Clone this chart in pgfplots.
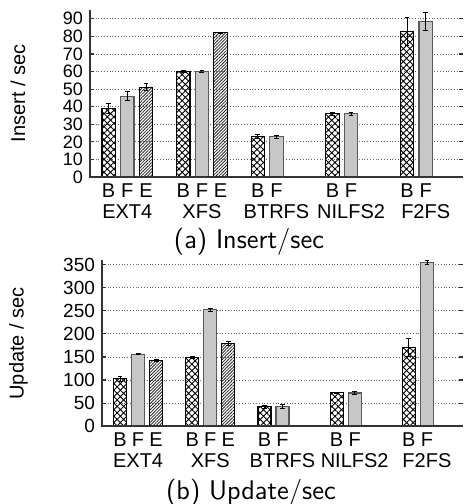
\documentclass[border=0pt]{standalone}
\usepackage{fontspec}
\setmainfont{Liberation Sans}
\usepackage{pgfplots}
\pgfplotsset{compat=1.18}
\usetikzlibrary{patterns.meta}

\pgfplotsset{
  fsbars/.style={
    scale only axis,
    xmin=-1, xmax=19,
    ymin=0,
    ybar, bar shift=0pt, bar width=0.72,
    axis line style={draw=none},
    extra description/.code={
      \draw[line width=0.9pt, black!80] (rel axis cs:0,1) -- (rel axis cs:0,0) -- (rel axis cs:1,0);
    },
    xtick={0,1,2,4,5,6,8,9,12,13,16,17},
    xticklabels={B,F\\EXT4,E,B,F\\XFS,E,B,F\\BTRFS,B,F\\NILFS2,B,F\\F2FS},
    xticklabel style={align=center, anchor=north, inner sep=1pt,
      font=\fontsize{10}{10.5}\selectfont},
    xtick pos=bottom,
    xtick style={draw=none},
    ytick pos=both,
    ytick align=inside, major tick length=2pt,
    ytick style={line width=0.6pt, black!80},
    ymajorgrids,
    grid style={densely dotted, line width=0.4pt, black!60},
    /pgf/number format/assume math mode=true,
  },
  errs/.style={
    error bars/y dir=both, error bars/y explicit,
    error bars/error bar style={line width=0.4pt, black},
    error bars/error mark options={rotate=90, mark size=1.2pt, line width=0.4pt, black}},
  bstyle/.style={errs, draw=black, line width=0.6pt, fill=white,
    pattern={Hatch[angle=45, distance=2.3pt, line width=0.45pt]}, pattern color=black},
  fstyle/.style={errs, draw=black!65, line width=0.6pt, fill=black!22},
  estyle/.style={errs, draw=black, line width=0.6pt, fill=white,
    pattern={Lines[angle=45, distance=1.1pt, line width=0.4pt]}, pattern color=black!85},
}

\begin{document}
\begin{tikzpicture}[x=1pt,y=1pt]

% (a) inserts per second
\begin{axis}[fsbars,
    at={(45pt,-88.5pt)}, anchor=south west,
    width=186.5pt, height=83.5pt,
    ymax=95, ytick={0,10,...,90},
    yticklabel style={font=\fontsize{9}{9.6}\selectfont},
    ylabel={Insert / sec},
    every axis y label/.style={at={([xshift=-36pt]axis description cs:0,0.5)},
      rotate=90, anchor=center, font=\fontsize{10}{10}\selectfont},
]
\addplot[bstyle] coordinates {
  (0,39) +- (0,2.6) (4,60) +- (0,0.4) (8,23) +- (0,1) (12,36) +- (0,0.8) (16,83) +- (0,8)
};
\addplot[fstyle] coordinates {
  (1,46) +- (0,2.7) (5,60) +- (0,0.6) (9,23) +- (0,0.8) (13,36) +- (0,0.8) (17,88.5) +- (0,5)
};
\addplot[estyle] coordinates {
  (2,51) +- (0,2) (6,82) +- (0,0.4)
};
\end{axis}
\node[font=\sffamily\fontsize{13.5}{15}\selectfont] at (124.5pt,-121pt) {(a) Insert/sec};

% (b) updates per second
\begin{axis}[fsbars,
    at={(51pt,-213.15pt)}, anchor=south west,
    width=180.5pt, height=83pt,
    ymax=359, ytick={0,50,...,350},
    yticklabel style={font=\fontsize{9.5}{9.6}\selectfont},
    ylabel={Update / sec},
    every axis y label/.style={at={([xshift=-41.75pt]axis description cs:0,0.5)},
      rotate=90, anchor=center, font=\fontsize{10}{10}\selectfont},
]
\addplot[bstyle] coordinates {
  (0,103) +- (0,5) (4,149) +- (0,2) (8,42) +- (0,3) (12,72.5) +- (0,1) (16,171) +- (0,19)
};
\addplot[fstyle] coordinates {
  (1,156) +- (0,1.5) (5,252) +- (0,4) (9,43) +- (0,4) (13,72) +- (0,3) (17,355) +- (0,4)
};
\addplot[estyle] coordinates {
  (2,142.5) +- (0,2) (6,179) +- (0,5)
};
\end{axis}
\node[font=\sffamily\fontsize{13.5}{15}\selectfont] at (125.5pt,-246.5pt) {(b) Update/sec};

\pgfresetboundingbox
\path (0,0) rectangle (232pt,-252pt);
\end{tikzpicture}
\end{document}
